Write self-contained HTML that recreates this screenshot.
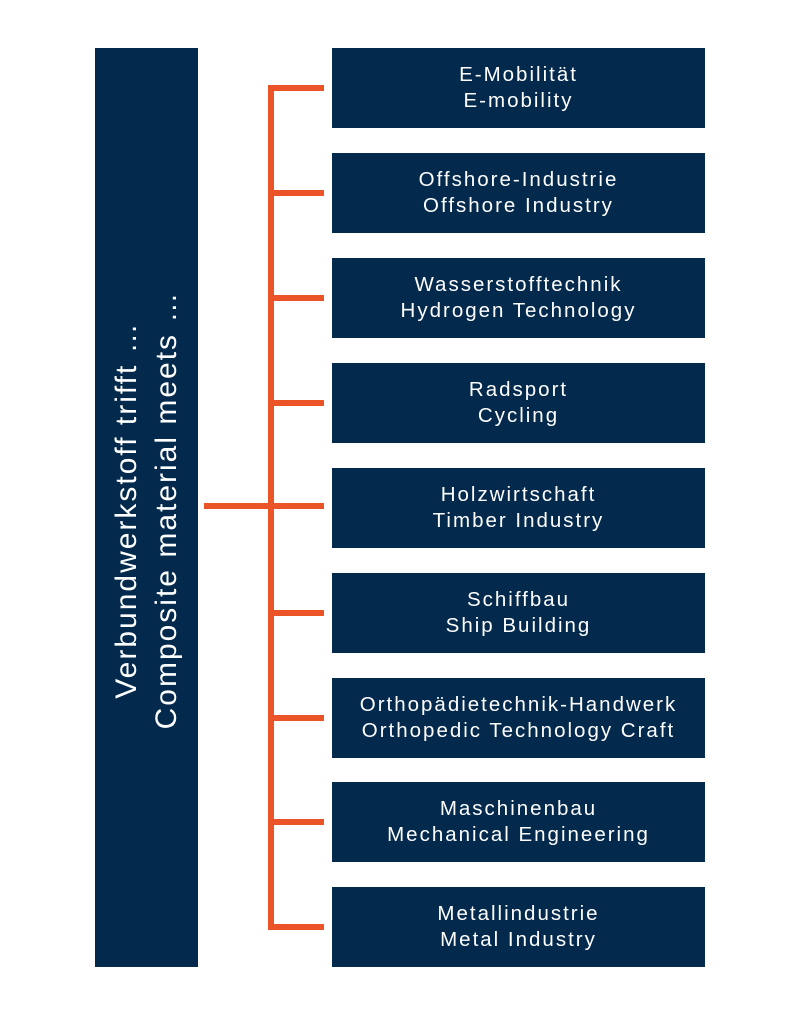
<!DOCTYPE html><html><head><style>
body{margin:0;width:788px;height:1024px;background:#fff;position:relative;font-family:"Liberation Sans",sans-serif;overflow:hidden}
.b{position:absolute;left:332px;width:373px;height:80px;background:#03294d;color:#fff;font-size:20.5px;letter-spacing:2px;line-height:26px;text-align:center;display:flex;align-items:center;justify-content:center}
.o{position:absolute;background:#ea5427}
.l{position:absolute;left:95px;top:48px;width:103px;height:919px;background:#03294d}
.t{position:absolute;left:147px;top:510px;transform:translate(-50%,-50%) rotate(-90deg);color:#fff;font-size:30px;letter-spacing:2px;line-height:40px;white-space:nowrap;text-align:center}
</style></head><body>
<div class="l"></div><div class="t">Verbundwerkstoff trifft …<br>Composite material meets …</div>
<div class="o" style="left:268px;top:85px;width:6px;height:845px"></div>
<div class="o" style="left:204px;top:503px;width:70px;height:6px"></div>
<div class="b" style="top:48px">E-Mobilität<br>E-mobility</div>
<div class="b" style="top:153px">Offshore-Industrie<br>Offshore Industry</div>
<div class="b" style="top:258px">Wasserstofftechnik<br>Hydrogen Technology</div>
<div class="b" style="top:363px">Radsport<br>Cycling</div>
<div class="b" style="top:468px">Holzwirtschaft<br>Timber Industry</div>
<div class="b" style="top:573px">Schiffbau<br>Ship Building</div>
<div class="b" style="top:678px">Orthopädietechnik-Handwerk<br>Orthopedic Technology Craft</div>
<div class="b" style="top:782px">Maschinenbau<br>Mechanical Engineering</div>
<div class="b" style="top:887px">Metallindustrie<br>Metal Industry</div>
<div class="o" style="left:268px;top:85px;width:56px;height:6px"></div>
<div class="o" style="left:268px;top:190px;width:56px;height:6px"></div>
<div class="o" style="left:268px;top:295px;width:56px;height:6px"></div>
<div class="o" style="left:268px;top:400px;width:56px;height:6px"></div>
<div class="o" style="left:268px;top:503px;width:56px;height:6px"></div>
<div class="o" style="left:268px;top:610px;width:56px;height:6px"></div>
<div class="o" style="left:268px;top:715px;width:56px;height:6px"></div>
<div class="o" style="left:268px;top:819px;width:56px;height:6px"></div>
<div class="o" style="left:268px;top:924px;width:56px;height:6px"></div>
</body></html>
